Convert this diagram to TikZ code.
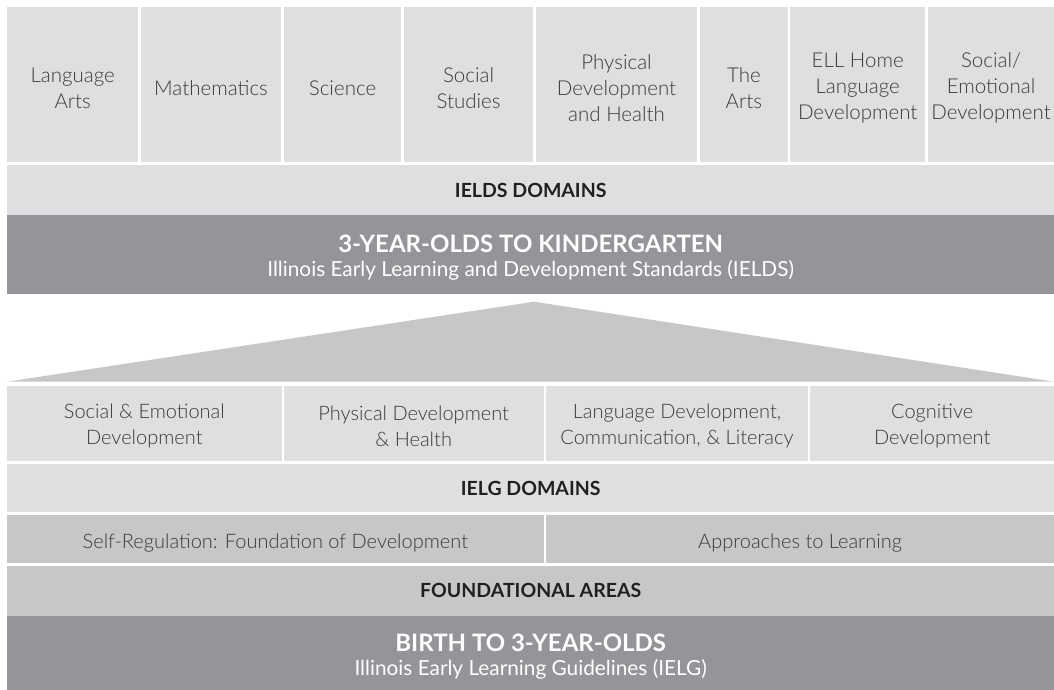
\documentclass[tikz,border=0pt]{standalone}
\usepackage{fontspec}
\setmainfont{Lato}[UprightFont={* Light}, BoldFont={* Bold}]
\newfontfamily\regfont{Lato}
\newcommand\mystrut[1]{\rule{0pt}{#1}}
\newcommand\tS{\mystrut{22pt}}
\newcommand\lS{\mystrut{20pt}}
\newcommand\dS{\mystrut{25pt}}
\definecolor{lightbox}{HTML}{DEDFE0}
\definecolor{midbox}{HTML}{C6C7C8}
\definecolor{darkbox}{HTML}{939598}
\definecolor{txt}{HTML}{3A3A3B}
\definecolor{headtxt}{HTML}{231F20}
\tikzset{
  cell/.style={anchor=north west, inner sep=0pt, align=center, text=txt,
    font=\fontsize{20}{25.5}\selectfont},
  topcell/.style={cell, fill=lightbox, font=\fontsize{20.5}{25.8}\selectfont},
  light/.style={cell, fill=lightbox},
  mid/.style={cell, fill=midbox},
  band/.style={cell, font=\fontsize{19.5}{22}\selectfont\bfseries, text=headtxt},
  darkband/.style={cell, fill=darkbox, text=white},
  pyramid/.style={fill=midbox, draw=none}
}
\begin{document}
\begin{tikzpicture}[x=1pt, y=-1pt]
\useasboundingbox[fill=white] (0,0) rectangle (1054,690);
% top row: IELDS domains
\node[topcell, minimum width=131pt,   minimum height=154.7pt] (la)  at (7,7)     {\tS Language\\Arts};
\node[topcell, minimum width=140.3pt, minimum height=154.7pt] (ma)  at (140.7,7) {\tS Mathematics};
\node[topcell, minimum width=117.3pt, minimum height=154.7pt] (sc)  at (283.7,7) {\tS Science};
\node[topcell, minimum width=129.3pt, minimum height=154.7pt] (ss)  at (403.7,7) {\tS Social\\Studies};
\node[topcell, minimum width=161.3pt, minimum height=154.7pt] (pd)  at (535.7,7) {\tS Physical\\Development\\and Health};
\node[topcell, minimum width=88pt,    minimum height=154.7pt] (ar)  at (699.7,7) {\tS The\\Arts};
\node[topcell, minimum width=135pt,   minimum height=154.7pt] (ell) at (790,7)   {\tS ELL Home\\Language\\Development};
\node[topcell, minimum width=126.3pt, minimum height=154.7pt] (se)  at (927.7,7) {\tS Social/\\Emotional\\Development};
% IELDS band
\node[band, fill=lightbox, minimum width=1047pt, minimum height=49.8pt] (ields) at (7,164.5) {\mystrut{16pt}IELDS DOMAINS};
\node[darkband, minimum width=1047pt, minimum height=79pt] (k) at (7,214.3)
  {{\dS\fontsize{24}{27}\selectfont\bfseries 3-YEAR-OLDS TO KINDERGARTEN}\\[-1.5pt]
   {\regfont\fontsize{20.8}{22}\selectfont Illinois Early Learning and Development Standards (IELDS)}};
% pyramid roof
\coordinate (apex) at (534,301.7);
\coordinate (bl) at (7,381.7);
\coordinate (br) at (1054,381.7);
\fill[pyramid] (bl) -- (apex) -- (br) -- cycle;
% lower row: IELG domains
\node[light, minimum width=274.3pt, minimum height=75.1pt] (sed) at (7,385.7)     {\lS Social \& Emotional\\Development};
\node[light, minimum width=259.6pt, minimum height=75.1pt] (pdh) at (283.7,385.7) {\lS Physical Development\\\& Health};
\node[light, minimum width=262.1pt, minimum height=75.1pt] (ldc) at (545.7,385.7) {\lS Language Development,\\Communication, \& Literacy};
\node[light, minimum width=244pt,   minimum height=75.1pt] (cd)  at (810,385.7)   {\lS Cognitive\\Development};
\node[band, fill=lightbox, minimum width=1047pt, minimum height=48.7pt] (ielg) at (7,463.5) {IELG DOMAINS};
\node[mid, minimum width=536.3pt, minimum height=48.5pt] (sr) at (7,514.7)     {\mystrut{22.5pt}Self-Regulation: Foundation of Development};
\node[mid, minimum width=508.3pt, minimum height=48.5pt] (al) at (545.7,514.7) {\mystrut{22.5pt}Approaches to Learning};
\node[band, fill=midbox, minimum width=1047pt, minimum height=50pt] (fa) at (7,565.7) {FOUNDATIONAL AREAS};
\node[darkband, minimum width=1047pt, minimum height=74.3pt] (b) at (7,615.7)
  {{\dS\fontsize{24}{27}\selectfont\bfseries BIRTH TO 3-YEAR-OLDS}\\[-1.5pt]
   {\regfont\fontsize{20.8}{22}\selectfont Illinois Early Learning Guidelines (IELG)}};
\end{tikzpicture}
\end{document}
